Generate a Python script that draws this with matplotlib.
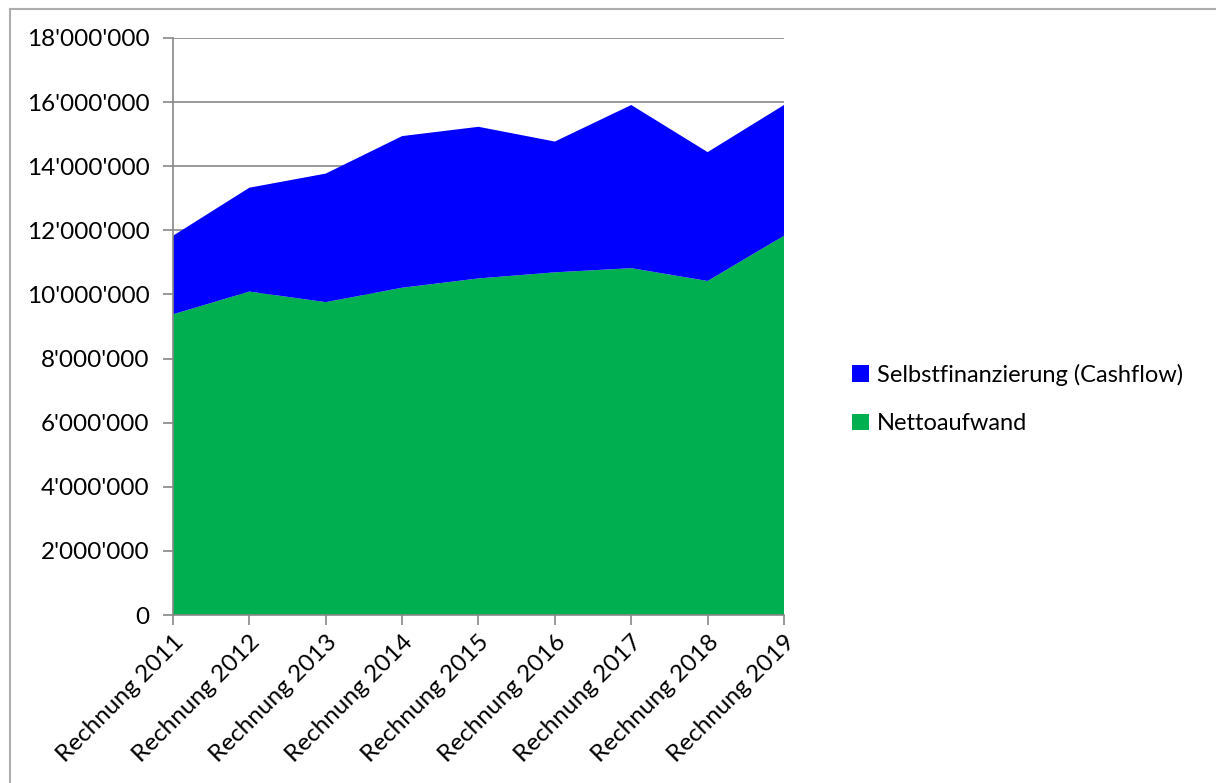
import matplotlib.pyplot as plt
from matplotlib.ticker import FuncFormatter
from matplotlib.lines import Line2D

plt.rcParams['font.family'] = ['Lato', 'DejaVu Sans']

# data
years = ['Rechnung 2011', 'Rechnung 2012', 'Rechnung 2013', 'Rechnung 2014', 'Rechnung 2015',
         'Rechnung 2016', 'Rechnung 2017', 'Rechnung 2018', 'Rechnung 2019']
nettoaufwand = [9380000, 10090000, 9760000, 10210000, 10500000, 10690000, 10820000, 10420000, 11830000]
cashflow = [2450000, 3240000, 4010000, 4730000, 4730000, 4080000, 5090000, 4020000, 4080000]

W, H = 1216, 783
fig = plt.figure(figsize=(W / 100, H / 100), dpi=100)
ax = fig.add_axes([173 / W, 1 - 615 / H, (784 - 173) / W, (615 - 38) / H])

x = list(range(len(years)))
ax.stackplot(x, nettoaufwand, cashflow, colors=['#00B050', '#0000FF'],
             labels=['Nettoaufwand', 'Selbstfinanzierung (Cashflow)'], linewidth=0)

ax.set_xlim(0, len(years) - 1)
ax.set_ylim(0, 18000000)
ax.set_yticks(range(0, 18000001, 2000000))
ax.yaxis.set_major_formatter(FuncFormatter(lambda v, p: f"{int(v):,}".replace(',', "'")))
ax.set_xticks(x)
ax.set_xticklabels(years, rotation=45, ha='right', rotation_mode='anchor')

ax.grid(axis='y', color='#878787', linewidth=1.2)
ax.set_axisbelow(True)
for s in ['top', 'right']:
    ax.spines[s].set_visible(False)
for s in ['left', 'bottom']:
    ax.spines[s].set_color('#878787')
    ax.spines[s].set_linewidth(1.2)
ax.tick_params(axis='both', colors='#878787', labelcolor='black', labelsize=17.5, length=7, width=1.2)
ax.tick_params(axis='y', pad=10)
ax.tick_params(axis='x', pad=5)

handles, labels = ax.get_legend_handles_labels()
fig.legend(handles[::-1], labels[::-1], loc='center left', bbox_to_anchor=(831 / W, 1 - 399 / H),
           frameon=False, fontsize=17, handlelength=0.7, handleheight=0.7, handletextpad=0.35,
           labelspacing=1.15)

# chart-area frame (only top and left edges fall inside the picture)
fig.add_artist(Line2D([10 / W, 1], [1 - 9 / H, 1 - 9 / H], transform=fig.transFigure,
                      color='#ADADAD', linewidth=1.5))
fig.add_artist(Line2D([10 / W, 10 / W], [0, 1 - 9 / H], transform=fig.transFigure,
                      color='#ADADAD', linewidth=1.5))

fig.savefig('out.png', dpi=100)
